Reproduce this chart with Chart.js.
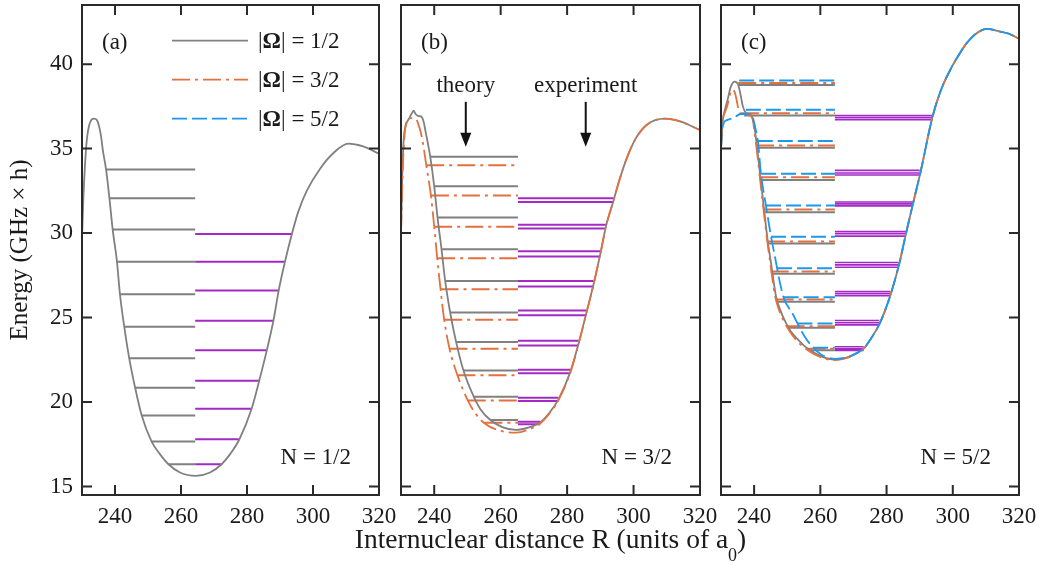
<!DOCTYPE html>
<html>
<head>
<meta charset="utf-8">
<script src="https://cdn.jsdelivr.net/npm/chart.js@4.4.1/dist/chart.umd.min.js"></script>
<style>
  html, body { margin: 0; padding: 0; background: #ffffff; }
  #wrap { position: relative; width: 1040px; height: 565px; overflow: hidden; background: #ffffff; }
  #wrap canvas { position: absolute; left: 0; top: 0; }
</style>
</head>
<body>
<div id="wrap">
  <canvas id="panelA" width="1040" height="565"></canvas>
  <canvas id="panelB" width="1040" height="565"></canvas>
  <canvas id="panelC" width="1040" height="565"></canvas>
</div>
<script>
// ---------- axis ticks ----------
const xTicks = [240, 260, 280, 300, 320];
const yTicks = [15, 20, 25, 30, 35, 40];

// ---------- text ----------
const panelTags = ['(a)', '(b)', '(c)'];
const panelN = ['N = 1/2', 'N = 3/2', 'N = 5/2'];
const omegaLabels = ['1/2', '3/2', '5/2'];
const yTitle = 'Energy (GHz \u00d7 h)';
const xTitleParts = ['Internuclear distance R (units of a', '0', ')'];

// ---------- panel (a): N = 1/2 ----------
const aCurveR = [230.0, 230.4, 230.9, 231.5, 232.2, 232.9, 233.7, 234.5, 235.2, 235.8, 236.3, 237.3, 238.3, 239.3, 240.6, 241.5, 242.8, 244.3, 246.1, 248.1, 251.1, 253.5, 256.2, 259.7, 264.5, 268.8, 272.3, 275.0, 277.7, 281.4, 283.7, 286.0, 288.0, 289.6, 291.5, 293.6, 295.6, 298.1, 302.1, 306.2, 310.7, 315.2, 320.0];
const aCurveE = [29.6, 32.0, 34.0, 35.6, 36.4, 36.72, 36.78, 36.7, 36.3, 35.7, 34.93, 33.75, 32.08, 30.21, 28.3, 26.38, 24.46, 22.60, 20.85, 19.20, 17.66, 16.95, 16.32, 15.83, 15.63, 15.83, 16.32, 16.95, 17.80, 19.61, 21.26, 23.06, 24.81, 26.60, 28.30, 29.95, 31.3, 32.5, 33.8, 34.74, 35.29, 35.13, 34.70];
const aTheoryE = [33.77, 32.06, 30.21, 28.30, 26.38, 24.46, 22.60, 20.85, 19.20, 17.66, 16.32];
const aTheoryFrom = [237.3, 238.3, 239.3, 240.6, 241.5, 242.8, 244.3, 246.1, 248.1, 251.1, 256.2];
const aSplit = 264.3;
const aExpE = [[29.95], [28.30], [26.60], [24.81], [23.06], [21.26], [19.61], [17.80], [16.32]];
const aExpTo = [293.6, 291.5, 289.6, 288.0, 286.0, 283.7, 281.4, 277.7, 272.3];

// ---------- panel (b): N = 3/2 ----------
const bCurve12R = [230.0, 230.4, 230.8, 231.5, 232.5, 233.3, 233.8, 234.4, 234.9, 235.6, 236.2, 236.8, 237.5, 238.2, 238.8, 240.0, 241.0, 242.2, 243.3, 244.8, 246.6, 248.8, 251.9, 254.0, 256.9, 260.5, 264.6, 268.5, 271.9, 274.8, 277.4, 281.0, 283.5, 285.8, 288.0, 290.0, 291.7, 294.0, 296.0, 298.0, 300.5, 304.0, 309.5, 314.0, 320.0];
const bCurve12E = [30.0, 33.5, 35.5, 36.4, 36.8, 37.1, 37.24, 37.05, 36.96, 36.92, 36.88, 36.6, 35.9, 35.2, 34.52, 32.77, 30.92, 29.04, 27.17, 25.30, 23.55, 21.87, 20.32, 19.55, 18.94, 18.52, 18.35, 18.5, 18.8, 19.4, 20.16, 21.8, 23.5, 25.28, 27.0, 28.77, 30.4, 31.95, 33.3, 34.45, 35.55, 36.41, 36.77, 36.61, 36.1];
const bCurve32R = [230.0, 230.4, 230.8, 231.5, 232.3, 233.0, 234.5, 235.3, 236.0, 236.8, 237.5, 239.0, 240.0, 240.9, 241.9, 243.0, 244.6, 247.0, 250.1, 252.5, 255.1, 259.5, 264.6, 268.5, 272.0, 274.8, 277.4, 281.0, 283.5, 285.8, 288.0, 290.0, 291.7, 294.0, 296.0, 298.0, 300.5, 304.0, 309.5, 314.0, 320.0];
const bCurve32E = [30.0, 33.0, 35.0, 36.5, 36.75, 36.8, 36.75, 36.4, 35.92, 35.1, 34.15, 32.23, 30.38, 28.51, 26.68, 24.87, 23.16, 21.58, 20.10, 19.3, 18.75, 18.32, 18.19, 18.38, 18.75, 19.35, 20.12, 21.78, 23.48, 25.26, 27.0, 28.77, 30.4, 31.95, 33.3, 34.45, 35.55, 36.41, 36.77, 36.61, 36.1];
const bTheory12E = [34.52, 32.77, 30.92, 29.04, 27.17, 25.30, 23.55, 21.87, 20.32, 18.94];
const bTheory12From = [238.8, 240.0, 241.0, 242.2, 243.3, 244.8, 246.6, 248.8, 251.9, 256.9];
const bTheory32E = [34.01, 32.23, 30.38, 28.51, 26.68, 24.87, 23.16, 21.58, 20.10, 18.78];
const bTheory32From = [237.6, 239.0, 240.0, 240.9, 241.9, 243.0, 244.6, 247.0, 250.1, 255.1];
const bSplit = 265.2;
const bExpE = [[32.06, 31.84], [30.50, 30.27], [28.92, 28.61], [27.17, 26.84], [25.42, 25.14], [23.63, 23.35], [21.91, 21.71], [20.26, 20.06], [18.84, 18.68]];
const bExpTo = [294.0, 291.7, 290.0, 288.0, 285.8, 283.5, 281.0, 277.4, 271.9];

// ---------- panel (c): N = 5/2 ----------
const cCurve12R = [230.0, 230.5, 231.2, 232.0, 233.0, 234.2, 235.2, 236.0, 236.6, 237.6, 238.9, 239.6, 240.1, 240.9, 242.0, 243.1, 244.2, 245.1, 246.6, 248.0, 249.1, 251.0, 253.2, 255.6, 258.2, 261.0, 264.2, 267.5, 270.5, 273.3, 275.6, 277.8, 279.7, 281.4, 283.9, 285.9, 287.9, 290.2, 293.9, 296.5, 299.5, 302.0, 304.2, 307.0, 310.3, 314.3, 317.0, 320.0];
const cCurve12E = [35.0, 36.6, 37.3, 37.9, 38.68, 38.97, 38.78, 38.09, 37.5, 37.1, 37.0, 36.8, 36.3, 35.05, 33.14, 31.23, 29.4, 28.24, 26.27, 25.4, 24.89, 24.2, 23.71, 23.25, 22.92, 22.65, 22.52, 22.6, 22.85, 23.21, 23.85, 24.6, 25.5, 26.47, 28.24, 30.0, 31.68, 33.56, 36.9, 38.5, 39.76, 40.6, 41.24, 41.8, 42.09, 41.93, 41.8, 41.5];
const cCurve32R = [230.0, 230.5, 231.3, 232.0, 232.7, 233.5, 234.2, 234.8, 235.3, 236.0, 237.6, 238.9, 239.6, 240.0, 240.7, 241.8, 242.9, 244.0, 244.9, 246.3, 247.6, 248.7, 250.7, 252.8, 255.3, 258.0, 261.0, 264.2, 267.5, 270.5, 273.3, 275.6, 277.8, 279.7, 281.4, 283.9, 285.9, 287.9, 290.2, 293.9, 296.5, 299.5, 302.0, 304.2, 307.0, 310.3, 314.3, 317.0, 320.0];
const cCurve32E = [35.0, 36.6, 37.2, 37.6, 38.2, 38.48, 38.3, 37.8, 37.3, 37.05, 37.0, 36.95, 36.7, 36.2, 35.1, 33.2, 31.3, 29.5, 28.2, 26.3, 25.4, 24.9, 24.2, 23.65, 23.2, 22.85, 22.6, 22.48, 22.58, 22.85, 23.21, 23.85, 24.6, 25.5, 26.47, 28.24, 30.0, 31.68, 33.56, 36.9, 38.5, 39.76, 40.6, 41.24, 41.8, 42.09, 41.93, 41.8, 41.5];
const cCurve52R = [230.0, 230.3, 230.8, 232.0, 233.7, 236.0, 238.3, 239.6, 240.4, 241.1, 242.1, 243.6, 245.1, 246.2, 247.6, 249.1, 250.4, 251.7, 253.5, 255.2, 257.7, 260.2, 262.5, 264.7, 267.5, 270.3, 273.3, 275.6, 277.8, 279.7, 281.4, 283.9, 285.9, 287.9, 290.2, 293.9, 296.5, 299.5, 302.0, 304.2, 307.0, 310.3, 314.3, 317.0, 320.0];
const cCurve52E = [35.0, 36.0, 36.5, 36.7, 36.8, 37.05, 37.05, 36.8, 36.2, 35.5, 33.46, 31.6, 29.8, 28.7, 27.25, 26.07, 25.6, 25.2, 24.5, 23.9, 23.25, 22.82, 22.62, 22.56, 22.62, 22.82, 23.21, 23.85, 24.6, 25.5, 26.47, 28.24, 30.0, 31.68, 33.56, 36.9, 38.5, 39.76, 40.6, 41.24, 41.8, 42.09, 41.93, 41.8, 41.5];
const cTheory12E = [38.76, 36.96, 35.05, 33.14, 31.23, 29.38, 27.59, 25.93, 24.40, 23.07];
const cTheory12From = [235.1, 237.0, 240.9, 242.0, 243.1, 244.2, 245.4, 247.1, 250.6, 257.0];
const cTheory32E = [38.88, 37.10, 35.19, 33.30, 31.39, 29.50, 27.73, 26.07, 24.49, 23.16];
const cTheory32From = [235.2, 236.0, 240.6, 241.8, 242.8, 243.9, 245.0, 246.5, 249.8, 256.0];
const cTheory52E = [39.03, 37.30, 35.45, 33.52, 31.63, 29.78, 27.92, 26.21, 24.65, 23.21];
const cTheory52From = [235.5, 237.5, 241.1, 242.1, 243.6, 245.1, 246.9, 248.9, 253.1, 257.8];
const cSplit = 264.4;
const cExpE = [[36.95, 36.83, 36.71], [33.71, 33.56, 33.44], [31.84, 31.73, 31.61], [30.09, 29.96, 29.82], [28.26, 28.12, 27.98], [26.54, 26.42, 26.29], [24.83, 24.69, 24.57], [23.27, 23.16, 23.06]];
const cExpTo = [294.0, 290.0, 288.0, 285.9, 283.6, 281.1, 277.8, 273.1];

// ---------- styles ----------
const FONT = "'Liberation Serif', 'Times New Roman', serif";
const TEXT = '#1a1a1a';
const FRAME = '#2a2a2a';
const S12 = { color: '#808080', dash: [] };
const S32 = { color: '#e4703f', dash: [18, 5, 3, 5] };
const S52 = { color: '#1c98ec', dash: [15, 5] };
const SEXP = { color: '#a42ac6' };

Chart.defaults.font.family = FONT;
Chart.defaults.color = TEXT;

// ---------- dataset builders ----------
function curveSet(R, E, st, order) {
  return {
    data: R.map((r, i) => ({ x: r, y: E[i] })),
    borderColor: st.color, borderWidth: 1.8, borderDash: st.dash,
    pointRadius: 0, fill: false, cubicInterpolationMode: 'monotone',
    spanGaps: false, order: order
  };
}
// horizontal level segments, separated by gaps
function levelSet(E, from, to, st, width, order) {
  const pts = [];
  E.forEach((grp, i) => {
    const list = Array.isArray(grp) ? grp : [grp];
    const x0 = Array.isArray(from) ? from[i] : from;
    const x1 = Array.isArray(to) ? to[i] : to;
    list.forEach(e => {
      pts.push({ x: x0, y: e }, { x: x1, y: e }, { x: x1, y: null });
    });
  });
  return {
    data: pts, borderColor: st.color, borderWidth: width, borderDash: st.dash || [],
    pointRadius: 0, fill: false, tension: 0, spanGaps: false, order: order
  };
}

// ---------- frame, inward ticks and annotations ----------
const TICK = 10;
const decor = {
  id: 'decor',
  afterDraw(chart, args, o) {
    const { ctx, chartArea: ca } = chart;
    const x = chart.scales.x, y = chart.scales.y;
    ctx.save();
    ctx.strokeStyle = FRAME;
    ctx.lineWidth = 2;
    ctx.beginPath();
    xTicks.forEach(v => {
      const px = x.getPixelForValue(v);
      ctx.moveTo(px, ca.bottom); ctx.lineTo(px, ca.bottom - TICK);
      ctx.moveTo(px, ca.top); ctx.lineTo(px, ca.top + TICK);
    });
    yTicks.forEach(v => {
      const py = y.getPixelForValue(v);
      ctx.moveTo(ca.left, py); ctx.lineTo(ca.left + TICK, py);
      ctx.moveTo(ca.right, py); ctx.lineTo(ca.right - TICK, py);
    });
    ctx.stroke();
    ctx.strokeRect(ca.left, ca.top, ca.right - ca.left, ca.bottom - ca.top);

    ctx.fillStyle = TEXT;
    ctx.font = '23px ' + FONT;
    ctx.textBaseline = 'middle';
    ctx.textAlign = 'left';
    ctx.fillText(o.tag, ca.left + 20, ca.top + 37.5);
    ctx.textAlign = 'right';
    ctx.fillText(o.nLabel, ca.right - 28, ca.bottom - 37);

    if (o.legend) {
      o.legend.forEach((it, i) => {
        const ly = ca.top + 35.6 + i * 39;
        ctx.save();
        ctx.strokeStyle = it.style.color;
        ctx.lineWidth = 1.8;
        ctx.setLineDash(it.style.dash);
        ctx.beginPath();
        ctx.moveTo(ca.left + 90, ly); ctx.lineTo(ca.left + 166, ly);
        ctx.stroke();
        ctx.restore();
        let tx = ca.left + 176;
        ctx.textAlign = 'left';
        ctx.font = '23px ' + FONT;
        ctx.fillText('|', tx, ly + 1); tx += ctx.measureText('|').width;
        ctx.font = 'bold 23px ' + FONT;
        ctx.fillText('\u03a9', tx, ly + 1); tx += ctx.measureText('\u03a9').width;
        ctx.font = '23px ' + FONT;
        ctx.fillText('| = ' + it.label, tx, ly + 1);
      });
    }

    if (o.arrows) {
      o.arrows.forEach(a => {
        const px = x.getPixelForValue(a.r);
        const pt = y.getPixelForValue(a.textE);
        const p0 = y.getPixelForValue(a.fromE);
        const p1 = y.getPixelForValue(a.toE);
        ctx.textAlign = 'center';
        ctx.font = '23px ' + FONT;
        ctx.fillText(a.text, px, pt);
        ctx.strokeStyle = '#111';
        ctx.fillStyle = '#111';
        ctx.lineWidth = 2;
        ctx.beginPath();
        ctx.moveTo(px, p0); ctx.lineTo(px, p1 - 10);
        ctx.stroke();
        ctx.beginPath();
        ctx.moveTo(px, p1); ctx.lineTo(px - 5.5, p1 - 14); ctx.lineTo(px + 5.5, p1 - 14);
        ctx.closePath();
        ctx.fill();
        ctx.fillStyle = TEXT;
      });
    }

    // shared horizontal axis title with subscript, centred under this panel
    if (o.xTitle) {
      const [main, sub, tail] = o.xTitle;
      const big = '27.5px ' + FONT, small = '18px ' + FONT;
      ctx.textBaseline = 'alphabetic';
      ctx.textAlign = 'left';
      ctx.font = big; const w1 = ctx.measureText(main).width; const w3 = ctx.measureText(tail).width;
      ctx.font = small; const w2 = ctx.measureText(sub).width;
      const cx = (ca.left + ca.right) / 2;
      let tx = cx - (w1 + w2 + w3) / 2;
      const base = 548;
      ctx.font = big; ctx.fillText(main, tx, base); tx += w1;
      ctx.font = small; ctx.fillText(sub, tx, base + 13); tx += w2;
      ctx.font = big; ctx.fillText(tail, tx, base);
    }
    ctx.restore();
  }
};

// ---------- chart factory ----------
function makePanel(id, p) {
  const showY = !!p.yLabels;
  return new Chart(document.getElementById(id), {
    type: 'line',
    data: { datasets: p.datasets },
    options: {
      responsive: false,
      animation: false,
      events: [],
      layout: { autoPadding: false, padding: { left: showY ? 0 : p.left, right: 1040 - p.right, top: 5, bottom: 0 } },
      plugins: { legend: { display: false }, tooltip: { enabled: false }, decor: p.decor },
      scales: {
        x: {
          type: 'linear', min: 230, max: 320,
          afterBuildTicks: s => { s.ticks = xTicks.map(v => ({ value: v })); },
          afterFit: s => { s.height = 70; s.paddingLeft = 0; s.paddingRight = 0; },
          grid: { display: false, drawTicks: false },
          border: { display: false },
          ticks: { font: { size: 23 }, color: TEXT, padding: 8, autoSkip: false, maxRotation: 0 }
        },
        y: {
          type: 'linear', min: 14.5, max: 43.5, display: showY,
          afterBuildTicks: s => { s.ticks = yTicks.map(v => ({ value: v })); },
          afterFit: s => { if (showY) s.width = p.left; s.paddingTop = 0; s.paddingBottom = 0; },
          grid: { display: false, drawTicks: false },
          border: { display: false },
          ticks: { font: { size: 23 }, color: TEXT, padding: 9 },
          title: showY ? { display: true, text: yTitle, font: { size: 25 }, color: TEXT, padding: { top: 5, bottom: 0 } } : { display: false }
        }
      }
    },
    plugins: [decor]
  });
}

makePanel('panelA', {
  left: 82, right: 379, yLabels: true,
  datasets: [
    curveSet(aCurveR, aCurveE, S12, 1),
    levelSet(aTheoryE, aTheoryFrom, aSplit, S12, 2, 3),
    levelSet(aExpE, aSplit, aExpTo, SEXP, 2, 2)
  ],
  decor: {
    tag: panelTags[0], nLabel: panelN[0],
    legend: [
      { style: S12, label: omegaLabels[0] },
      { style: S32, label: omegaLabels[1] },
      { style: S52, label: omegaLabels[2] }
    ]
  }
});

makePanel('panelB', {
  left: 401, right: 700,
  datasets: [
    curveSet(bCurve32R, bCurve32E, S32, 1),
    curveSet(bCurve12R, bCurve12E, S12, 2),
    levelSet(bTheory32E, bTheory32From, bSplit, S32, 2, 3),
    levelSet(bTheory12E, bTheory12From, bSplit, S12, 2, 4),
    levelSet(bExpE, bSplit, bExpTo, SEXP, 2, 3)
  ],
  decor: {
    tag: panelTags[1], nLabel: panelN[1], xTitle: xTitleParts,
    arrows: [
      { text: 'theory', r: 249.5, textE: 38.72, fromE: 37.77, toE: 35.11 },
      { text: 'experiment', r: 285.6, textE: 38.72, fromE: 37.77, toE: 35.11 }
    ]
  }
});

makePanel('panelC', {
  left: 721, right: 1019,
  datasets: [
    curveSet(cCurve52R, cCurve52E, S52, 1),
    curveSet(cCurve32R, cCurve32E, S32, 2),
    curveSet(cCurve12R, cCurve12E, S12, 3),
    levelSet(cTheory52E, cTheory52From, cSplit, S52, 2, 4),
    levelSet(cTheory32E, cTheory32From, cSplit, S32, 2, 5),
    levelSet(cTheory12E, cTheory12From, cSplit, S12, 2, 6),
    levelSet(cExpE, cSplit, cExpTo, SEXP, 1.6, 4)
  ],
  decor: { tag: panelTags[2], nLabel: panelN[2] }
});
</script>
</body>
</html>
